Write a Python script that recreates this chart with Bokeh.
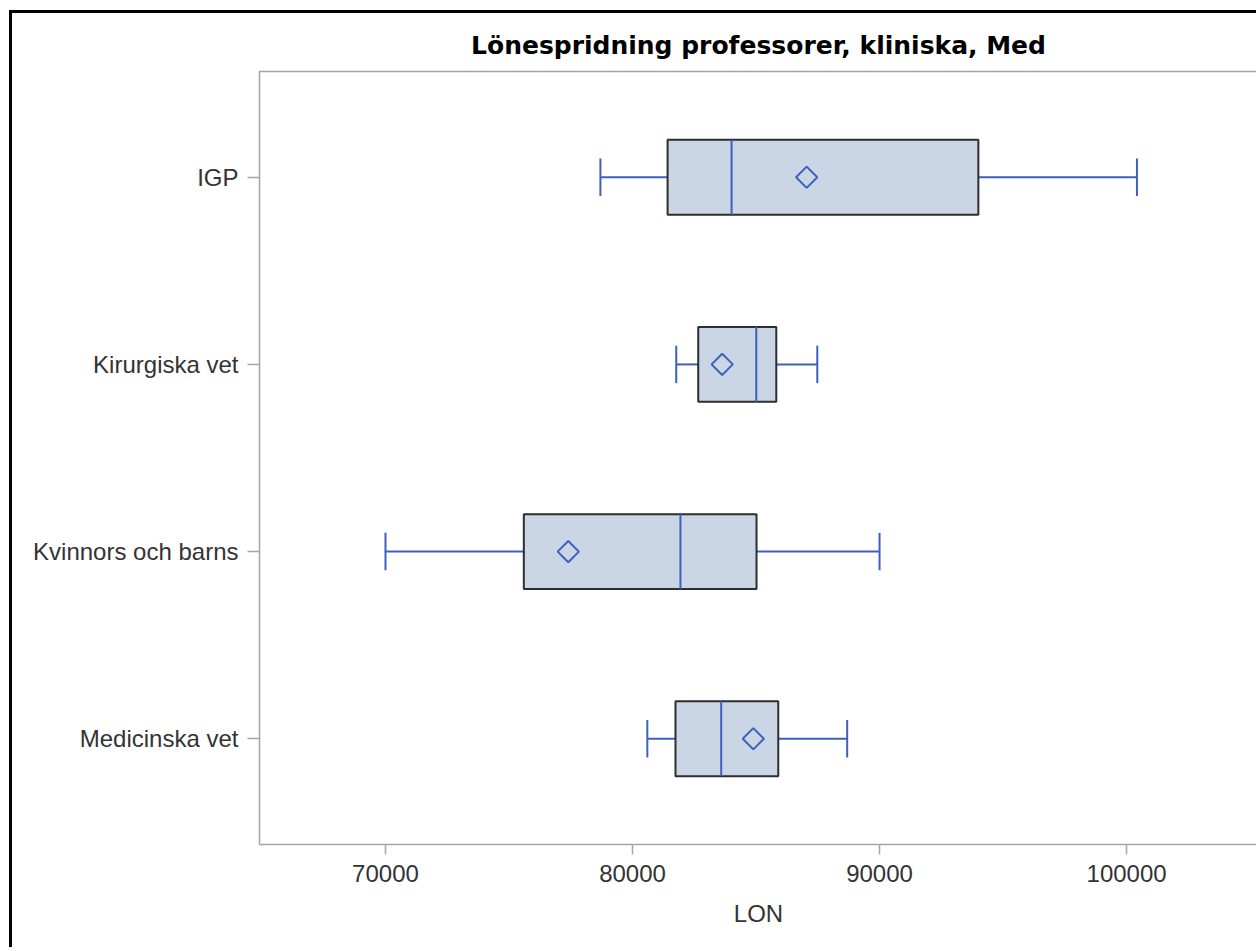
from math import pi
from bokeh.plotting import figure
from bokeh.models import ColumnDataSource, FactorRange, FixedTicker
from bokeh.transform import dodge
from bokeh.embed import file_html
from bokeh.resources import INLINE

# ---- data ----
categories = ["IGP", "Kirurgiska vet", "Kvinnors och barns", "Medicinska vet"]
whisker_low = [78700, 81770, 70000, 80600]
q1 = [81420, 82660, 75600, 81740]
median = [84010, 85010, 81940, 83590]
mean = [87050, 83630, 77400, 84890]
q3 = [94000, 85820, 85020, 85900]
whisker_high = [100420, 87480, 90000, 88690]

x_ticks = [70000, 80000, 90000, 100000]
x_tick_labels = ["70000", "80000", "90000", "100000"]
title_text = "Lönespridning professorer, kliniska, Med"
x_label = "LON"

BLUE = "#3D60BD"
BOX_FILL = "#CAD5E5"
BOX_LINE = "#2E2E2E"
GRAY = "#A5A5A5"
TEXT = "#333333"

src = ColumnDataSource(dict(cat=categories, low=whisker_low, q1=q1, med=median,
                            mean=mean, q3=q3, high=whisker_high))

p = figure(width=1247, height=937,
           y_range=FactorRange(factors=categories[::-1], range_padding=0.065,
                               range_padding_units="absolute"),
           x_range=(64900, 105300),
           output_backend="svg", toolbar_location=None,
           min_border_left=247, min_border_right=2,
           min_border_top=58, min_border_bottom=106)
p.margin = (10, 0, 0, 9)
p.styles = {"border-left": "3px solid black", "border-top": "3px solid black"}

p.title.text = title_text
p.title.align = "center"
p.title.standoff = 24
p.title.text_font = "DejaVu Sans"
p.title.text_font_size = "25px"
p.title.text_font_style = "bold"
p.title.text_color = "black"

p.background_fill_color = "white"
p.border_fill_color = "white"
p.outline_line_color = GRAY
p.outline_line_width = 1.5
p.xgrid.grid_line_color = None
p.ygrid.grid_line_color = None

# x axis
p.xaxis.ticker = FixedTicker(ticks=x_ticks)
p.xaxis.major_label_overrides = {t: l for t, l in zip(x_ticks, x_tick_labels)}
p.xaxis.minor_tick_line_color = None
p.xaxis.axis_label = x_label
p.xaxis.axis_label_text_font = "Liberation Sans"
p.xaxis.axis_label_text_font_size = "24px"
p.xaxis.axis_label_text_font_style = "normal"
p.xaxis.axis_label_text_color = TEXT
p.xaxis.axis_label_standoff = 15

for ax in (p.xaxis, p.yaxis):
    ax.axis_line_color = None
    ax.major_tick_line_color = GRAY
    ax.major_tick_line_width = 1.5
    ax.major_tick_in = 0
    ax.major_label_text_font = "Liberation Sans"
    ax.major_label_text_font_size = "24px"
    ax.major_label_text_color = TEXT
p.xaxis.major_tick_out = 10
p.xaxis.major_label_standoff = 10
p.yaxis.major_tick_out = 12
p.yaxis.major_label_standoff = 9

# whiskers
p.segment(x0="low", y0="cat", x1="q1", y1="cat", line_color=BLUE, line_width=2, source=src)
p.segment(x0="q3", y0="cat", x1="high", y1="cat", line_color=BLUE, line_width=2, source=src)
# caps
p.segment(x0="low", y0=dodge("cat", -0.1, range=p.y_range),
          x1="low", y1=dodge("cat", 0.1, range=p.y_range),
          line_color=BLUE, line_width=2, source=src)
p.segment(x0="high", y0=dodge("cat", -0.1, range=p.y_range),
          x1="high", y1=dodge("cat", 0.1, range=p.y_range),
          line_color=BLUE, line_width=2, source=src)
# boxes
p.hbar(y="cat", left="q1", right="q3", height=0.4, fill_color=BOX_FILL,
       line_color=BOX_LINE, line_width=2, source=src)
# median
p.segment(x0="med", y0=dodge("cat", -0.2, range=p.y_range),
          x1="med", y1=dodge("cat", 0.2, range=p.y_range),
          line_color=BLUE, line_width=2, source=src)
# mean
p.scatter(x="mean", y="cat", marker="square", angle=pi / 4, size=15,
          fill_color=None, line_color=BLUE, line_width=2, source=src)

open("out.html", "w").write(file_html(p, INLINE))
